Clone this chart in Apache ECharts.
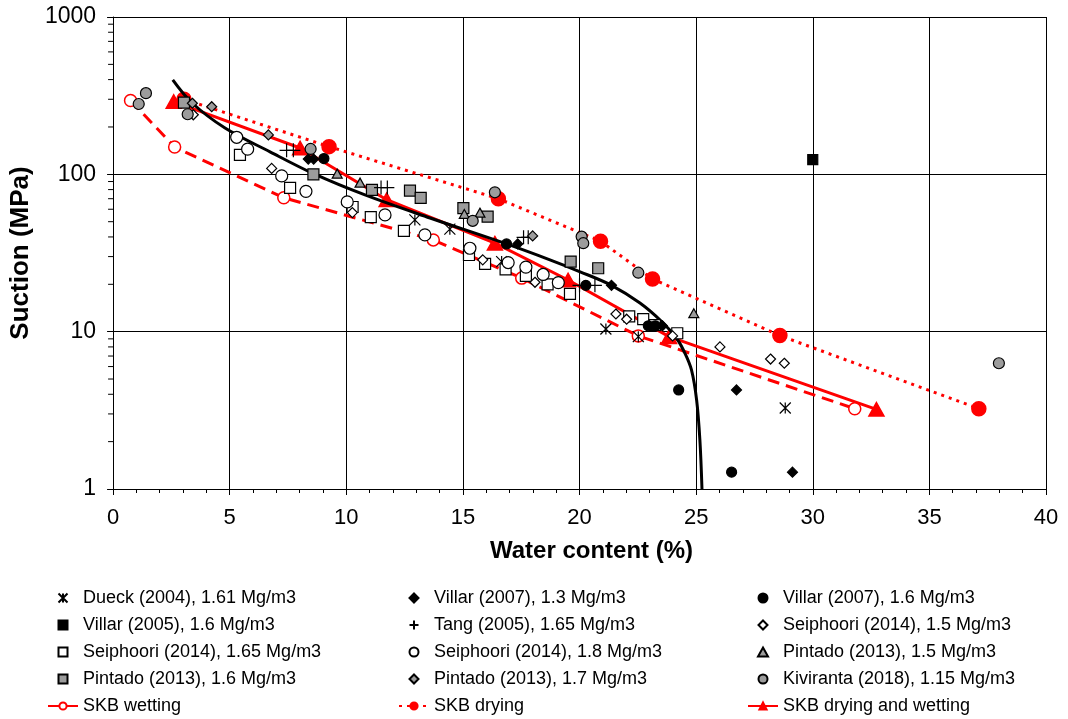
<!DOCTYPE html>
<html>
<head>
<meta charset="utf-8">
<script src="https://cdn.jsdelivr.net/npm/echarts@6/dist/echarts.min.js"></script>
<style>
  html, body { margin: 0; padding: 0; background: #fff; }
  #chart { width: 1068px; height: 719px; }
</style>
</head>
<body>
<div id="chart"></div>
<script>
// Measured data: [water content (%), suction (MPa)]
const dueck2004 = [[12.94, 51.3], [14.44, 44.8], [16.66, 27.9], [21.13, 10.4], [22.52, 9.3], [28.82, 3.27]];
const villar2005 = [[30.0, 124]];
const villar2007Low = [[8.37, 125], [8.60, 125], [17.35, 36.1], [21.37, 19.7], [23.55, 10.9], [26.73, 4.26], [29.13, 1.28]];
const villar2007High = [[9.04, 126], [16.87, 36.1], [20.27, 19.7], [22.95, 10.9], [23.25, 10.9], [24.25, 4.26], [26.52, 1.28]];
const tang2005 = [[7.44, 142], [7.73, 142], [11.49, 82.4], [11.76, 82.4], [17.60, 39.8], [17.80, 39.8], [20.0, 19.7], [20.66, 19.7]];
const seiphoori15 = [[3.44, 239], [6.80, 109], [10.26, 57.1], [15.85, 28.6], [18.09, 20.6], [21.56, 12.95], [22.02, 12.0], [23.99, 9.4], [26.02, 8.0], [28.19, 6.7], [28.78, 6.3]];
const seiphoori165 = [[5.44, 133], [7.59, 82], [10.27, 62], [11.05, 53.4], [12.47, 43.7], [15.26, 30.7], [15.95, 27.0], [16.83, 24.9], [17.70, 22.6], [18.63, 20.0], [19.59, 17.4], [22.13, 12.5], [22.73, 12.0], [23.23, 11.0], [24.19, 9.77]];
const seiphoori18 = [[5.30, 172], [5.77, 144.6], [7.23, 97.7], [8.27, 78], [10.04, 66.8], [11.66, 55.2], [13.37, 41.2], [15.30, 33.9], [16.94, 27.5], [17.70, 25.7], [18.44, 23.1], [19.09, 20.5]];
const pintado15 = [[9.61, 101], [10.59, 88.6], [15.06, 56.0], [15.73, 57.1], [24.90, 13.1]];
const pintado16 = [[3.04, 286], [8.59, 100], [11.10, 79.6], [12.73, 78.8], [13.19, 70.8], [15.02, 60.9], [16.06, 53.8], [19.62, 27.9], [20.80, 25.3]];
const pintado17 = [[3.40, 283], [4.23, 269], [6.66, 178], [17.99, 40.6]];
const kiviranta2018 = [[1.10, 280], [1.41, 328], [3.20, 241], [8.47, 145], [15.42, 50.6], [16.37, 76.9], [20.09, 40.2], [20.16, 36.5], [22.52, 23.7], [37.98, 6.3]];

// SKB model lines
const skbWetting = [[0.75, 295], [2.64, 149], [7.32, 71], [13.73, 38.3], [17.52, 21.9], [22.52, 9.4], [31.80, 3.24]];
const skbDrying = [[3.04, 300], [9.26, 150], [16.52, 70], [20.90, 37.6], [23.13, 21.6], [28.59, 9.44], [37.12, 3.24]];
const skbBoth = [[2.60, 290], [8.02, 147], [11.73, 69], [16.37, 36.5], [19.51, 21.3], [23.84, 9.3], [32.73, 3.21]];

// Retention curve (black)
const retentionCurve = [[2.56, 398], [3.39, 284], [4.80, 197], [6.73, 139], [8.62, 100.6], [10.80, 74], [13.59, 52.8], [16.87, 36.1], [18.73, 28.6], [20.00, 24.1], [21.37, 19.7], [22.59, 15.2], [23.52, 11.6], [24.16, 9.08], [24.52, 7.29], [24.80, 5.71], [25.02, 3.68], [25.16, 2.05], [25.25, 1.0]];

// Axis settings
const xTickValues = [0, 5, 10, 15, 20, 25, 30, 35, 40];
const yTickLabels = [1, 10, 100, 1000];
const yMinorTicks = [2, 3, 4, 5, 6, 7, 8, 9, 20, 30, 40, 50, 60, 70, 80, 90, 200, 300, 400, 500, 600, 700, 800, 900];

const FONT = '"Liberation Sans", Arial, sans-serif';
const GRAY = '#9c9c9c';
const RED = '#ff0000';

// Marker shapes (paths keep their aspect ratio in the legend)
const STAR = 'path://M0,0L10,10M10,0L0,10M5,0L5,10';
const PLUS = 'path://M5,0L5,10M0,5L10,5';
const SQUARE = 'path://M0,0L10,0L10,10L0,10Z';
const DIAMOND = 'path://M5,0L10,5L5,10L0,5Z';
const TRIANGLE = 'path://M5,0L10,9L0,9Z';

function scatter(name, data, symbol, size, fill, stroke) {
  return {
    name: name,
    type: 'scatter',
    data: data,
    symbol: symbol,
    symbolSize: size,
    symbolKeepAspect: true,
    z: 4,
    itemStyle: { color: fill, borderColor: stroke || '#000', borderWidth: 1.2, opacity: 1 },
    emphasis: { disabled: true }
  };
}

function skbLine(name, data, dash, symbol, size, fill) {
  return {
    name: name,
    type: 'line',
    data: data,
    symbol: symbol,
    symbolSize: size,
    symbolKeepAspect: true,
    showSymbol: true,
    z: 2,
    lineStyle: { color: RED, width: 3, type: dash },
    itemStyle: { color: fill, borderColor: RED, borderWidth: 1.5 },
    emphasis: { disabled: true }
  };
}

const chart = echarts.init(document.getElementById('chart'), null, { renderer: 'canvas' });

const legendText = { fontSize: 18, color: '#000', fontFamily: FONT, lineHeight: 18 };
function legendCol(left, names) {
  return {
    orient: 'vertical', left: left, top: 589, padding: 0,
    itemWidth: 30, itemHeight: 9, itemGap: 9,
    symbolKeepAspect: true,
    selectedMode: false,
    textStyle: legendText,
    data: names
  };
}

chart.setOption({
  animation: false,
  backgroundColor: '#fff',
  grid: { left: 113, right: 22, top: 17, bottom: 230, containLabel: false },
  xAxis: {
    type: 'value', min: 0, max: 40, interval: 5,
    name: 'Water content (%)', nameLocation: 'middle', nameGap: 50,
    nameTextStyle: { fontSize: 24, fontWeight: 'bold', color: '#000', fontFamily: FONT, padding: [0, 0, 0, 24] },
    axisLine: { show: true, onZero: false, lineStyle: { color: '#000', width: 1 } },
    axisTick: { show: true, length: 6, lineStyle: { color: '#000' } },
    minorTick: { show: true, splitNumber: 5, length: 4, lineStyle: { color: '#000' } },
    axisLabel: { fontSize: 22, color: '#000', fontFamily: FONT, margin: 18,
      formatter: v => (xTickValues.indexOf(v) >= 0 ? String(v) : '') },
    splitLine: { show: true, lineStyle: { color: '#000', width: 1 } }
  },
  yAxis: {
    type: 'log', logBase: 10, min: 1, max: 1000,
    name: 'Suction (MPa)', nameLocation: 'middle', nameGap: 77, nameRotate: 90,
    nameTextStyle: { fontSize: 26, fontWeight: 'bold', color: '#000', fontFamily: FONT },
    axisLine: { show: true, lineStyle: { color: '#000', width: 1 } },
    axisTick: { show: true, length: 6, lineStyle: { color: '#000' } },
    axisLabel: { fontSize: 23, color: '#000', fontFamily: FONT, margin: 17,
      formatter: v => (yTickLabels.indexOf(Math.round(v)) >= 0 ? String(Math.round(v)) : '') },
    splitLine: { show: true, lineStyle: { color: '#000', width: 1 } }
  },
  legend: [
    legendCol(47, ['Dueck (2004), 1.61 Mg/m3', 'Villar (2005), 1.6 Mg/m3', 'Seiphoori (2014), 1.65 Mg/m3', 'Pintado (2013), 1.6 Mg/m3', 'SKB wetting']),
    legendCol(398, ['Villar (2007), 1.3 Mg/m3', 'Tang (2005), 1.65 Mg/m3', 'Seiphoori (2014), 1.8 Mg/m3', 'Pintado (2013), 1.7 Mg/m3', 'SKB drying']),
    legendCol(747, ['Villar (2007), 1.6 Mg/m3', 'Seiphoori (2014), 1.5 Mg/m3', 'Pintado (2013), 1.5 Mg/m3', 'Kiviranta (2018), 1.15 Mg/m3', 'SKB drying and wetting'])
  ],
  series: [
    // minor ticks of the logarithmic suction axis
    {
      type: 'custom', name: 'yMinor', silent: true, clip: false, z: 1,
      data: yMinorTicks.map(v => [0, v]),
      renderItem: function (params, api) {
        const p = api.coord([0, api.value(1)]);
        return { type: 'line', shape: { x1: p[0] - 5, y1: p[1], x2: p[0], y2: p[1] },
          style: { stroke: '#000', lineWidth: 1 } };
      }
    },
    skbLine('SKB wetting', skbWetting, [12, 7], 'circle', 12, '#fff'),
    skbLine('SKB drying', skbDrying, [3, 5], 'circle', 14, RED),
    skbLine('SKB drying and wetting', skbBoth, 'solid', TRIANGLE, 15, RED),
    {
      name: 'Retention curve', type: 'line', data: retentionCurve, smooth: 0.35,
      symbol: 'none', z: 3, lineStyle: { color: '#000', width: 3 }, emphasis: { disabled: true }
    },
    scatter('Dueck (2004), 1.61 Mg/m3', dueck2004, STAR, 11, '#000', '#000'),
    scatter('Villar (2005), 1.6 Mg/m3', villar2005, SQUARE, 10, '#000', '#000'),
    scatter('Seiphoori (2014), 1.65 Mg/m3', seiphoori165, SQUARE, 11, '#fff', '#000'),
    scatter('Pintado (2013), 1.6 Mg/m3', pintado16, SQUARE, 11, GRAY, '#000'),
    scatter('Villar (2007), 1.3 Mg/m3', villar2007Low, DIAMOND, 10, '#000', '#000'),
    scatter('Tang (2005), 1.65 Mg/m3', tang2005, PLUS, 14, '#000', '#000'),
    scatter('Seiphoori (2014), 1.8 Mg/m3', seiphoori18, 'circle', 12, '#fff', '#000'),
    scatter('Pintado (2013), 1.7 Mg/m3', pintado17, DIAMOND, 10, GRAY, '#000'),
    scatter('Villar (2007), 1.6 Mg/m3', villar2007High, 'circle', 10, '#000', '#000'),
    scatter('Seiphoori (2014), 1.5 Mg/m3', seiphoori15, DIAMOND, 10, '#fff', '#000'),
    scatter('Pintado (2013), 1.5 Mg/m3', pintado15, TRIANGLE, 10, GRAY, '#000'),
    scatter('Kiviranta (2018), 1.15 Mg/m3', kiviranta2018, 'circle', 11, GRAY, '#000')
  ]
});
</script>
</body>
</html>
